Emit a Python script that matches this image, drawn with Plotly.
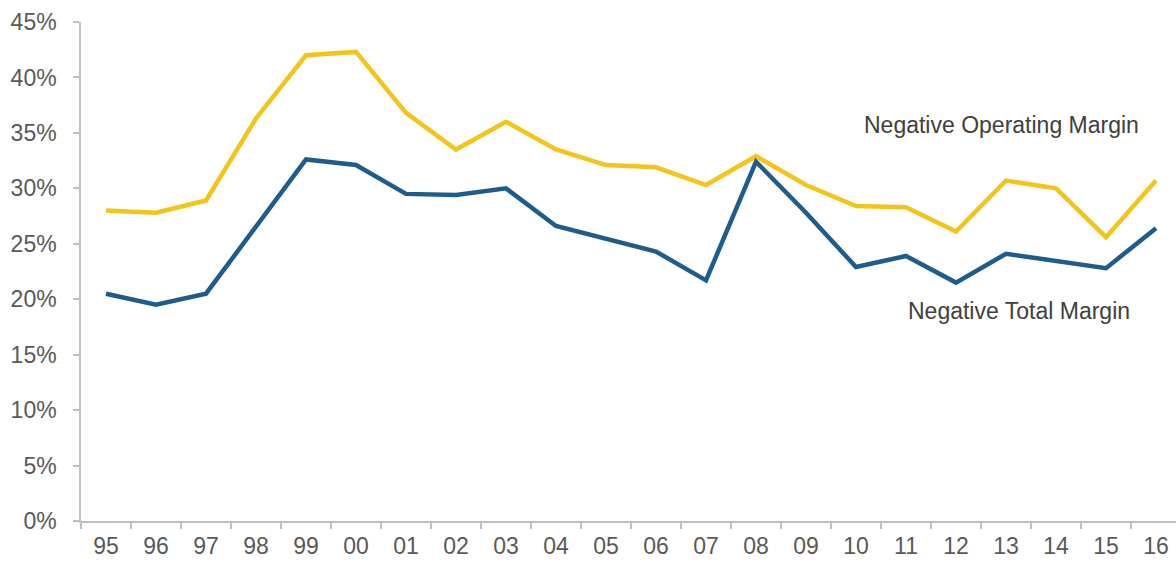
import plotly.graph_objects as go

# Fiscal years (two-digit labels)
years = ["95", "96", "97", "98", "99", "00", "01", "02", "03", "04", "05",
         "06", "07", "08", "09", "10", "11", "12", "13", "14", "15", "16"]

# Share of companies with negative margins (%)
negative_operating = [28.0, 27.8, 28.9, 36.3, 42.0, 42.3, 36.8, 33.5, 36.0, 33.5, 32.1,
                      31.9, 30.3, 32.9, 30.3, 28.4, 28.3, 26.1, 30.7, 30.0, 25.6, 30.7]
negative_total = [20.5, 19.5, 20.5, 26.5, 32.6, 32.1, 29.5, 29.4, 30.0, 26.6, 25.5,
                  24.3, 21.7, 32.4, 27.8, 22.9, 23.9, 21.5, 24.1, 23.4, 22.8, 26.4]

y_ticks = [0, 5, 10, 15, 20, 25, 30, 35, 40, 45]
y_tick_labels = ["0%", "5%", "10%", "15%", "20%", "25%", "30%", "35%", "40%", "45%"]

YELLOW = "#F3C419"
BLUE = "#1D5C8C"
AXIS = "#BFBFBF"
TICK_TEXT = "#595959"
FONT = "Liberation Sans, Arial, sans-serif"
SIZE = 23

fig = go.Figure()
fig.add_trace(go.Scatter(x=years, y=negative_operating, mode="lines",
                         line=dict(color=YELLOW, width=4.5), name="Negative Operating Margin"))
fig.add_trace(go.Scatter(x=years, y=negative_total, mode="lines",
                         line=dict(color=BLUE, width=4.5), name="Negative Total Margin"))

fig.add_annotation(x=17.9, y=35.7, text="Negative Operating Margin", showarrow=False,
                   xanchor="center", yanchor="middle",
                   font=dict(family=FONT, size=SIZE, color="#404040"))
fig.add_annotation(x=18.25, y=18.95, text="Negative Total Margin", showarrow=False,
                   xanchor="center", yanchor="middle",
                   font=dict(family=FONT, size=SIZE, color="#404040"))

fig.update_layout(
    width=1176, height=562,
    margin=dict(l=81, r=0, t=22, b=41),
    paper_bgcolor="white", plot_bgcolor="white",
    showlegend=False,
    font=dict(family=FONT, size=SIZE, color=TICK_TEXT),
    xaxis=dict(
        type="category", range=[-0.5, 21.4],
        showline=True, linecolor=AXIS, linewidth=1.5,
        ticks="outside", tickson="boundaries", ticklen=6, tickcolor=AXIS, tickwidth=1.5,
        showgrid=False, zeroline=False,
        tickfont=dict(family=FONT, size=SIZE, color=TICK_TEXT),
        ticklabelstandoff=4,
    ),
    yaxis=dict(
        range=[0, 45], tickmode="array", tickvals=y_ticks, ticktext=y_tick_labels,
        showline=True, linecolor=AXIS, linewidth=1.5,
        ticks="outside", ticklen=6, tickcolor=AXIS, tickwidth=1.5,
        showgrid=False, zeroline=False,
        tickfont=dict(family=FONT, size=SIZE, color=TICK_TEXT),
        ticklabelstandoff=12,
    ),
)

fig.write_html("out.html")
